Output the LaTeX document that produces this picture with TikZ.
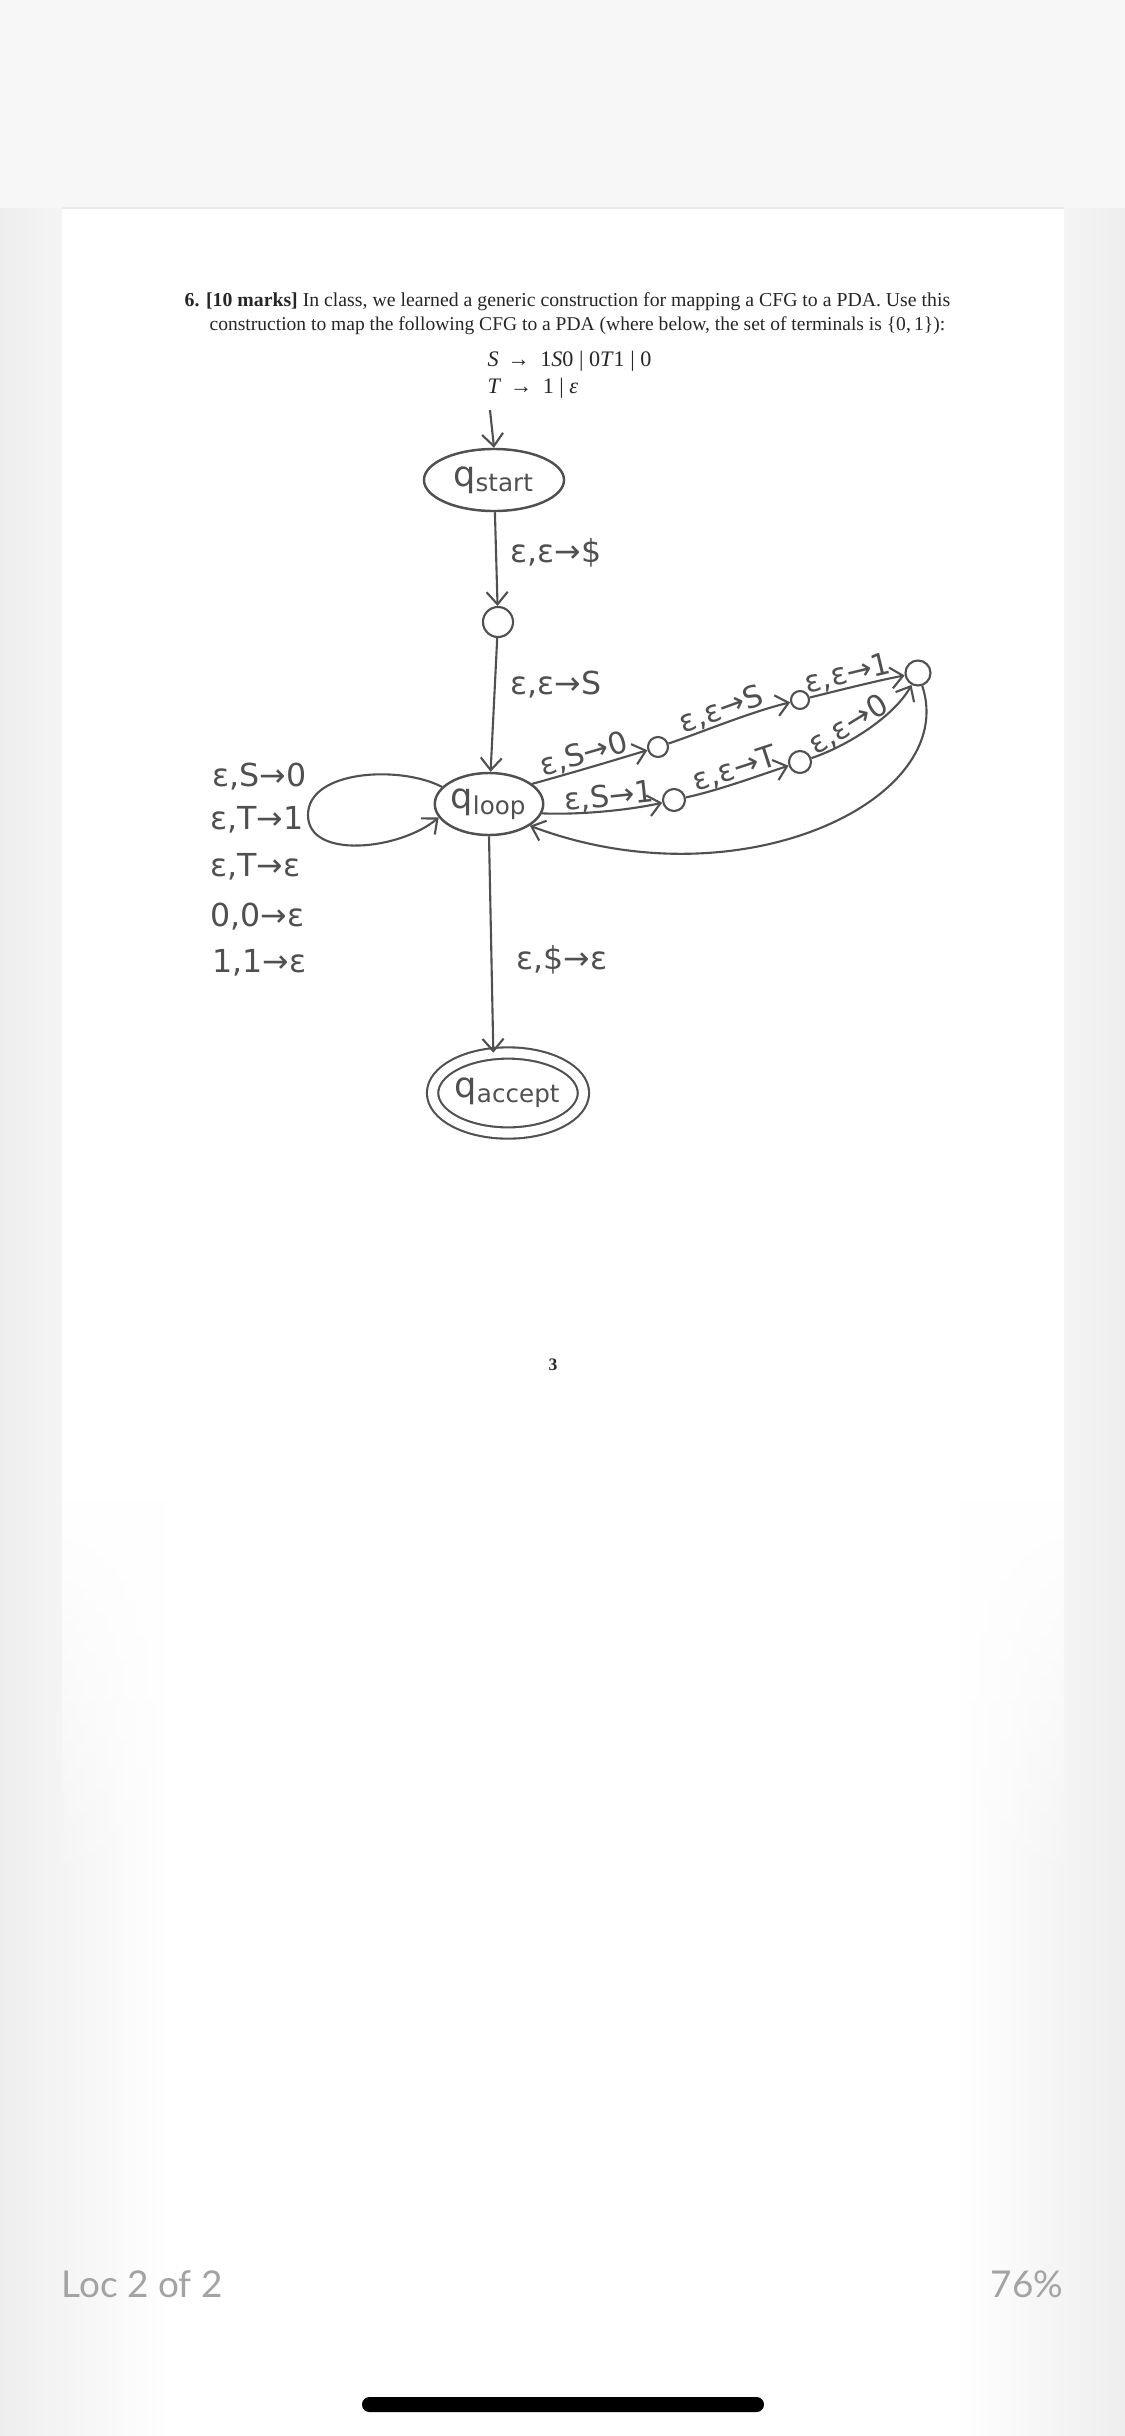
\documentclass[tikz,border=0pt]{standalone}
\usepackage{fontspec}
\setmainfont{Liberation Serif}
\newfontfamily\hand{DejaVu Sans}
\newfontfamily\uifont{Lato}
\usetikzlibrary{shapes.geometric,arrows.meta,fadings}
\definecolor{ink}{HTML}{505050}
\definecolor{printc}{HTML}{262626}
\definecolor{bgedge}{HTML}{EEEEEE}
\definecolor{uigray}{HTML}{A3A3A3}
\tikzfading[name=pagefade, top color=transparent!0, bottom color=transparent!100]
\tikzset{
  hw/.style={font=\hand\fontsize{9}{11}\selectfont, text=ink, inner sep=1pt},
  statename/.style={font=\hand\fontsize{10}{12}\selectfont, text=ink},
  st/.style={ellipse, draw=ink, line width=0.7pt, inner sep=0pt, statename},
  acc/.style={st, double=white, double distance=2.6pt, line width=0.6pt},
  mid/.style={circle, draw=ink, line width=0.6pt, inner sep=0pt},
  tr/.style={draw=ink, line width=0.6pt, -{Straight Barb[length=3.5pt, width=6pt]}},
  lab/.style={hw, font=\hand\fontsize{8.6}{10}\selectfont, above, sloped, inner sep=0pt},
  printed/.style={text=printc, inner sep=0pt},
  ui/.style={font=\uifont\fontsize{10.5}{12}\selectfont, text=uigray, inner sep=0pt},
}
\begin{document}
\begin{tikzpicture}[x=0.01cm, y=-0.01cm]
\useasboundingbox (0,0) rectangle (1125,2436);
% background
\fill[white] (0,0) rectangle (1125,2436);
\shade[left color=bgedge, right color=white] (0,0) rectangle (170,2436);
\shade[left color=white, right color=bgedge] (955,0) rectangle (1125,2436);
\fill[black!3] (0,0) rectangle (1125,208);
\fill[white] (62,208) rectangle (1064,1500);
\fill[white, path fading=pagefade] (62,1500) rectangle (1064,1900);
\draw[black!8, line width=0.4pt] (62,208) -- (1064,208);

% printed question
\node[printed, anchor=west] (p1) at (184,302) {\resizebox{7.65cm}{!}{\textbf{6. [10 marks]} In class, we learned a generic construction for mapping a CFG to a PDA. Use this}};
\node[printed, anchor=west] (p2) at (209,326) {\resizebox{7.35cm}{!}{construction to map the following CFG to a PDA (where below, the set of terminals is \{0,\,1\}):}};
\node[printed, anchor=west, font=\fontsize{6.3}{7}\selectfont] (g1) at (487,361) {\textit{S}\hspace{2.5pt}→\hspace{3pt}1\textit{S}0 | 0\textit{T}1 | 0};
\node[printed, anchor=west, font=\fontsize{6.3}{7}\selectfont] (g2) at (487,388) {\textit{T}\hspace{2.5pt}→\hspace{3pt}1 | \textit{ε}};
\node[printed, font=\fontsize{5}{6}\selectfont\bfseries] (pg) at (553,1365) {3};

% states
\coordinate (init) at (490,410);
\node[st, minimum width=1.40cm, minimum height=0.62cm] (qs) at (494,480) {q\textsubscript{start}};
\node[mid, minimum size=0.30cm] (c1) at (498,622) {};
\node[st, minimum width=0.96cm, minimum height=0.62cm] (ql) at (489,804) {q\textsubscript{loop}};
\node[acc, minimum width=1.36cm, minimum height=0.80cm] (qa) at (508,1093) {q\textsubscript{accept}};

\node[mid, minimum size=0.20cm] (A) at (658,747) {};
\node[mid, minimum size=0.18cm] (B) at (800,700) {};
\node[mid, minimum size=0.25cm] (C) at (918,673) {};
\node[mid, minimum size=0.22cm] (D) at (674,800) {};
\node[mid, minimum size=0.22cm] (E) at (800,762) {};

% main spine
\draw[tr] (init) -- (qs.north);
\draw[tr] (qs) -- (c1);
\draw[tr] (c1) -- (ql);
\draw[tr] (ql.south) -- (qa.110);
\node[hw, anchor=west] (l1) at (506,553) {ε,ε→\$};
\node[hw, anchor=west] (l2) at (506,685) {ε,ε→S};
\node[hw, anchor=west] (l3) at (512,960) {ε,\$→ε};

% self loop
\draw[tr] (ql.160) .. controls (400,765) and (308,770) .. (308,815)
          .. controls (308,860) and (400,850) .. (ql.195);
\node[hw, anchor=west] (s1) at (208,777) {ε,S→0};
\node[hw, anchor=west] (s2) at (206,820) {ε,T→1};
\node[hw, anchor=west] (s3) at (206,867) {ε,T→ε};
\node[hw, anchor=west] (s4) at (206,917) {0,0→ε};
\node[hw, anchor=west] (s5) at (208,963) {1,1→ε};

% right branches
\draw[tr] (ql.25) .. controls (575,772) and (615,760) .. (A) node[lab, pos=0.45] (r1) {ε,S→0};
\draw[tr] (A) .. controls (700,733) and (750,712) .. (B) node[lab, pos=0.5] (r2) {ε,ε→S};
\draw[tr] (B) .. controls (840,690) and (880,680) .. (C) node[lab, pos=0.42] (r3) {ε,ε→1};
\draw[tr] (ql.-10) .. controls (580,815) and (630,810) .. (D) node[lab, pos=0.55] (r4) {ε,S→1};
\draw[tr] (D) .. controls (720,790) and (760,775) .. (E) node[lab, pos=0.5] (r5) {ε,ε→T};
\draw[tr] (E) .. controls (850,745) and (895,715) .. (C) node[lab, pos=0.38] (r6) {ε,ε→0};
\draw[tr] (C) .. controls (960,800) and (740,905) .. (ql.-28);

% reader UI
\node[ui, anchor=west] (loc) at (61,2284) {Loc 2 of 2};
\node[ui, anchor=east] (pct) at (1064,2284) {76\%};
\fill[black, rounded corners=2.1pt] (362,2397) rectangle (764,2412);
\end{tikzpicture}
\end{document}
